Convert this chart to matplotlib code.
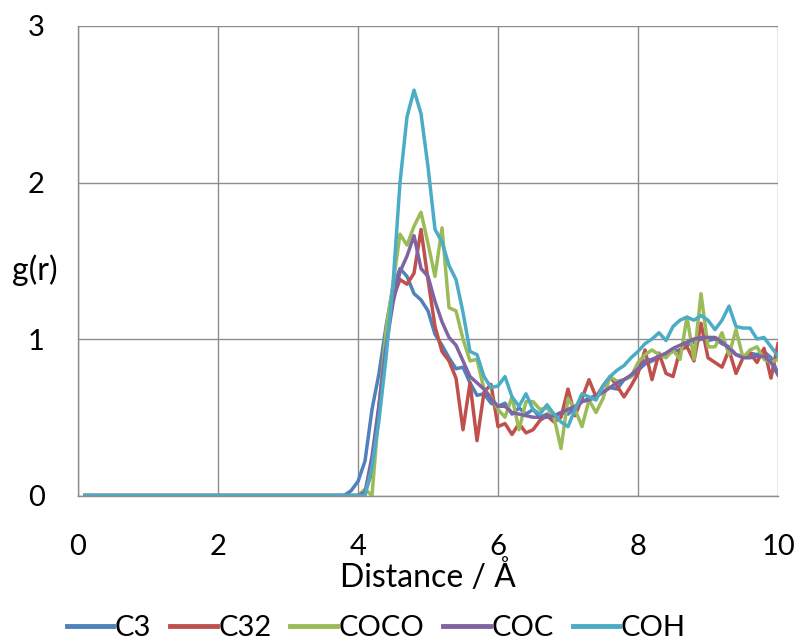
import numpy as np
import matplotlib
matplotlib.use("Agg")
import matplotlib.pyplot as plt

plt.rcParams['font.family'] = ['Lato', 'DejaVu Sans']

# radial distance (Å); flat region 0.1..3.7 is zero for every series
r_flat = [round(0.1 * i, 1) for i in range(1, 38)]
flat = [0.0] * len(r_flat)
r_peak = [3.8, 3.9, 4.0, 4.1, 4.2, 4.3, 4.4, 4.5, 4.6, 4.7, 4.8, 4.9,
          5.0, 5.1, 5.2, 5.3, 5.4, 5.5, 5.6, 5.7, 5.8, 5.9,
          6.0, 6.1, 6.2, 6.3, 6.4, 6.5, 6.6, 6.7, 6.8, 6.9,
          7.0, 7.1, 7.2, 7.3, 7.4, 7.5, 7.6, 7.7, 7.8, 7.9,
          8.0, 8.1, 8.2, 8.3, 8.4, 8.5, 8.6, 8.7, 8.8, 8.9,
          9.0, 9.1, 9.2, 9.3, 9.4, 9.5, 9.6, 9.7, 9.8, 9.9, 10.0]

c3 = [0.0, 0.03, 0.09, 0.22, 0.55, 0.78, 1.08, 1.33, 1.45, 1.40, 1.29, 1.25,
      1.18, 1.03, 0.96, 0.88, 0.81, 0.82, 0.72, 0.64, 0.65, 0.59,
      0.57, 0.59, 0.52, 0.56, 0.52, 0.55, 0.50, 0.52, 0.50, 0.53,
      0.52, 0.56, 0.60, 0.62, 0.64, 0.66, 0.69, 0.68, 0.74, 0.76,
      0.80, 0.84, 0.86, 0.88, 0.90, 0.92, 0.93, 0.96, 0.98, 1.00,
      0.99, 1.00, 0.97, 0.95, 0.90, 0.89, 0.91, 0.90, 0.92, 0.88, 0.78]

c32 = [0.0, 0.0, 0.0, 0.02, 0.15, 0.57, 1.00, 1.26, 1.38, 1.35, 1.42, 1.70,
       1.38, 1.08, 0.92, 0.86, 0.75, 0.42, 0.72, 0.35, 0.66, 0.71,
       0.44, 0.46, 0.39, 0.46, 0.40, 0.42, 0.48, 0.51, 0.47, 0.50,
       0.68, 0.51, 0.62, 0.74, 0.63, 0.70, 0.76, 0.70, 0.63, 0.70,
       0.78, 0.93, 0.74, 0.91, 0.78, 0.76, 0.93, 0.95, 0.86, 1.10,
       0.88, 0.85, 0.82, 0.93, 0.78, 0.88, 0.91, 0.85, 0.94, 0.75, 0.97]

coco = [0.0, 0.0, 0.0, 0.04, 0.0, 0.55, 1.05, 1.35, 1.67, 1.60, 1.72, 1.81,
        1.61, 1.40, 1.71, 1.20, 1.18, 1.00, 0.86, 0.87, 0.68, 0.63,
        0.55, 0.50, 0.63, 0.42, 0.60, 0.60, 0.55, 0.56, 0.50, 0.30,
        0.62, 0.55, 0.44, 0.61, 0.53, 0.62, 0.76, 0.73, 0.74, 0.76,
        0.85, 0.90, 0.93, 0.90, 0.88, 0.93, 0.87, 1.14, 0.87, 1.29,
        0.95, 0.95, 1.04, 0.90, 1.06, 0.88, 0.93, 0.95, 0.87, 0.85, 0.87]

coc = [0.0, 0.0, 0.0, 0.02, 0.25, 0.58, 0.95, 1.23, 1.43, 1.53, 1.66, 1.45,
       1.40, 1.24, 1.11, 1.01, 0.96, 0.86, 0.76, 0.72, 0.68, 0.62,
       0.57, 0.57, 0.53, 0.52, 0.51, 0.50, 0.50, 0.50, 0.51, 0.53,
       0.55, 0.57, 0.60, 0.61, 0.63, 0.66, 0.69, 0.72, 0.74, 0.77,
       0.81, 0.86, 0.87, 0.89, 0.91, 0.94, 0.96, 0.98, 1.00, 1.01,
       1.01, 1.01, 0.98, 0.94, 0.90, 0.88, 0.88, 0.89, 0.89, 0.85, 0.77]

coh = [0.0, 0.0, 0.0, 0.0, 0.18, 0.48, 0.88, 1.35, 2.00, 2.42, 2.59, 2.44,
       2.10, 1.70, 1.62, 1.47, 1.38, 1.17, 0.92, 0.90, 0.76, 0.69,
       0.70, 0.76, 0.63, 0.57, 0.65, 0.55, 0.52, 0.58, 0.52, 0.47,
       0.44, 0.55, 0.65, 0.63, 0.61, 0.70, 0.76, 0.80, 0.83, 0.88,
       0.92, 0.97, 1.00, 1.04, 0.99, 1.08, 1.12, 1.14, 1.12, 1.15,
       1.12, 1.06, 1.12, 1.21, 1.08, 1.07, 1.07, 1.00, 1.01, 0.95, 0.89]

names = ['C3', 'C32', 'COCO', 'COC', 'COH']
colors = ['#4F81BD', '#C0504D', '#9BBB59', '#8064A2', '#4BACC6']
series = [c3, c32, coco, coc, coh]

r = r_flat + r_peak

fig = plt.figure(figsize=(7.97, 6.44), dpi=100)
ax = fig.add_axes([78 / 797, 1 - 495.5 / 644, 700 / 797, (495.5 - 26) / 644])

for name, col, g in zip(names, colors, series):
    ax.plot(r, flat + g, color=col, lw=2.5, label=name, solid_joinstyle='round')

ax.set_xlim(0, 10)
ax.set_ylim(0, 3)
ax.set_xticks([0, 2, 4, 6, 8, 10])
ax.set_yticks([0, 1, 2, 3])
ax.grid(True, color='#8c8c8c', lw=1)
ax.set_axisbelow(True)
for s in ['top', 'right']:
    ax.spines[s].set_visible(False)
for s in ['left', 'bottom']:
    ax.spines[s].set_color('#8c8c8c')
    ax.spines[s].set_linewidth(1)
ax.tick_params(axis='x', length=0, pad=28, labelsize=21)
ax.tick_params(axis='y', length=0, pad=24, labelsize=21)

ax.set_xlabel('Distance / Å', fontsize=23, labelpad=0)
ax.set_ylabel('g(r)', fontsize=23, rotation=0, ha='center', va='center')
ax.yaxis.set_label_coords(-0.061, 0.48)

fig.legend(loc='center', bbox_to_anchor=(0.472, 0.025), ncol=5, frameon=False,
           fontsize=21, handlelength=1.6, handletextpad=0.05, columnspacing=0.65)
for line in fig.legends[0].get_lines():
    line.set_linewidth(3.5)

fig.savefig('out.png', dpi=100)
